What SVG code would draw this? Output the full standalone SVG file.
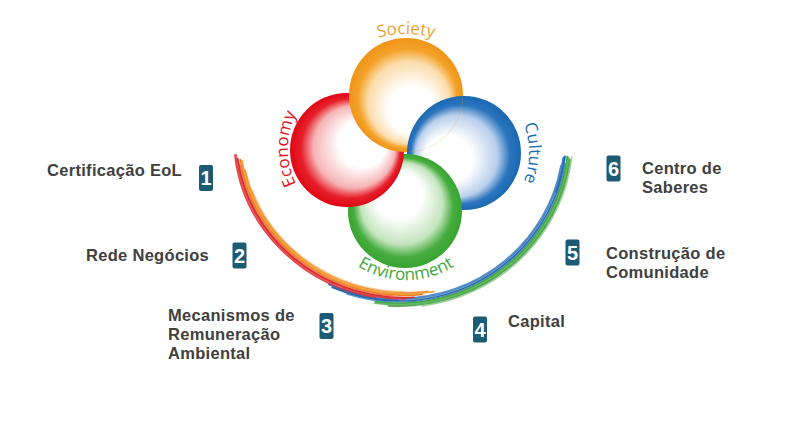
<svg xmlns="http://www.w3.org/2000/svg" xmlns:xlink="http://www.w3.org/1999/xlink" width="789" height="423" viewBox="0 0 789 423">
<style>
.lbl{font-family:"Liberation Sans",Arial,sans-serif;font-weight:700;font-size:16.5px;letter-spacing:0.3px;fill:#404040}
.num{font-family:"Liberation Sans",Arial,sans-serif;font-weight:700;font-size:20px;fill:#ffffff;text-anchor:middle}
.badge{fill:#1d5a74}
.ctx{font-family:"Open Sans","DejaVu Sans",sans-serif;font-size:17px;text-anchor:middle}
.s{fill:none;stroke-linecap:round}
</style>
<defs>
<radialGradient id="gO" cx="0.5" cy="0.5" r="0.5" fx="0.6" fy="0.74">
<stop offset="0" stop-color="#fff"/><stop offset="0.42" stop-color="#fff"/><stop offset="0.72" stop-color="#fbdcaa"/><stop offset="0.87" stop-color="#f4a22a"/><stop offset="1" stop-color="#f09418"/>
</radialGradient>
<radialGradient id="gR" cx="0.5" cy="0.5" r="0.5" fx="0.74" fy="0.4">
<stop offset="0" stop-color="#fff"/><stop offset="0.42" stop-color="#fff"/><stop offset="0.72" stop-color="#f6b3b5"/><stop offset="0.87" stop-color="#e5202a"/><stop offset="1" stop-color="#e00614"/>
</radialGradient>
<radialGradient id="gB" cx="0.5" cy="0.5" r="0.5" fx="0.26" fy="0.6">
<stop offset="0" stop-color="#fff"/><stop offset="0.42" stop-color="#fff"/><stop offset="0.72" stop-color="#b9cfec"/><stop offset="0.87" stop-color="#2a75bd"/><stop offset="1" stop-color="#1b68b2"/>
</radialGradient>
<radialGradient id="gG" cx="0.5" cy="0.5" r="0.5" fx="0.4" fy="0.26">
<stop offset="0" stop-color="#fff"/><stop offset="0.42" stop-color="#fff"/><stop offset="0.72" stop-color="#c3e4bd"/><stop offset="0.87" stop-color="#46ad3e"/><stop offset="1" stop-color="#38a431"/>
</radialGradient>
<clipPath id="clipO"><circle cx="406" cy="95" r="57"/></clipPath>
<path id="pSoc" d="M353.5,48.1 A105,105 0 0 1 458.5,48.1"/>
<path id="pEco" d="M298.7,189 A80,80 0 0 1 298.7,109"/>
<path id="pCul" d="M518.3,113 A80,80 0 0 1 518.3,193"/>
<path id="pEnv" d="M326.3,234 A92,92 0 0 0 485.7,234"/>
</defs>
<rect width="789" height="423" fill="#ffffff"/>

<g id="arcs">
<g id="arc-right" transform="translate(399,138) scale(1,0.975)">
<circle class="s" r="164.3" pathLength="360" stroke="#2f73b9" stroke-width="1.5" stroke-dasharray="100 1000" stroke-dashoffset="-10" opacity="0.8"/>
<circle class="s" r="165.6" pathLength="360" stroke="#3f86c8" stroke-width="2" stroke-dasharray="108 1000" stroke-dashoffset="-7"/>
<circle class="s" r="167" pathLength="360" stroke="#2866ad" stroke-width="2" stroke-dasharray="107 1000" stroke-dashoffset="-6.5"/>
<circle class="s" r="168.3" pathLength="360" stroke="#3a7fc4" stroke-width="1.5" stroke-dasharray="99 1000" stroke-dashoffset="-9" opacity="0.85"/>
<circle class="s" r="166.3" pathLength="360" stroke="#ffffff" stroke-width="0.5" stroke-dasharray="70 1000" stroke-dashoffset="-20" opacity="0.7"/>
<circle class="s" r="169.6" pathLength="360" stroke="#45a447" stroke-width="2" stroke-dasharray="91.5 1000" stroke-dashoffset="-6.5"/>
<circle class="s" r="171" pathLength="360" stroke="#5db85a" stroke-width="2.1" stroke-dasharray="91 1000" stroke-dashoffset="-7" opacity="0.95"/>
<circle class="s" r="172.4" pathLength="360" stroke="#3d9a3f" stroke-width="1.8" stroke-dasharray="86 1000" stroke-dashoffset="-7.5" opacity="0.85"/>
<circle class="s" r="173.9" pathLength="360" stroke="#6cbf66" stroke-width="1.4" stroke-dasharray="76 1000" stroke-dashoffset="-6.5" opacity="0.7"/>
</g>
<g id="arc-left" transform="translate(405,138) scale(1.03,0.975)">
<circle class="s" r="166.2" pathLength="360" stroke="#d8232a" stroke-width="1.4" stroke-dasharray="74 1000" stroke-dashoffset="-100" opacity="0.85"/>
<circle class="s" r="165" pathLength="360" stroke="#e2413f" stroke-width="1.8" stroke-dasharray="84 1000" stroke-dashoffset="-90" opacity="0.9"/>
<circle class="s" r="163.7" pathLength="360" stroke="#d92b2f" stroke-width="1.8" stroke-dasharray="85.5 1000" stroke-dashoffset="-87"/>
<circle class="s" r="162.5" pathLength="360" stroke="#e8604a" stroke-width="1.4" stroke-dasharray="76 1000" stroke-dashoffset="-94" opacity="0.8"/>
<circle class="s" r="161.3" pathLength="360" stroke="#f07f22" stroke-width="1.8" stroke-dasharray="88 1000" stroke-dashoffset="-84"/>
<circle class="s" r="160" pathLength="360" stroke="#f39a2e" stroke-width="2" stroke-dasharray="91.5 1000" stroke-dashoffset="-80" opacity="0.9"/>
<circle class="s" r="158.7" pathLength="360" stroke="#ee8a2a" stroke-width="1.6" stroke-dasharray="86 1000" stroke-dashoffset="-82" opacity="0.85"/>
<circle class="s" r="157.5" pathLength="360" stroke="#f4a640" stroke-width="1.2" stroke-dasharray="70 1000" stroke-dashoffset="-90" opacity="0.6"/>
</g>
</g>

<g id="circles">
<g id="culture"><circle id="cB" cx="464" cy="153" r="57" fill="url(#gB)"/></g>
<g id="environment"><circle cx="405" cy="211" r="57" fill="url(#gG)"/></g>
<g id="economy"><circle cx="347" cy="150" r="57" fill="url(#gR)"/></g>
<g id="society"><circle cx="406" cy="95" r="57" fill="url(#gO)"/></g>
<use xlink:href="#cB" href="#cB" clip-path="url(#clipO)"/>
</g>

<g id="circle-labels">
<text class="ctx" fill="#f0a030" font-size="18"><textPath href="#pSoc" xlink:href="#pSoc" startOffset="50%">Society</textPath></text>
<text class="ctx" fill="#e3141e"><textPath href="#pEco" xlink:href="#pEco" startOffset="50%">Economy</textPath></text>
<text class="ctx" fill="#1b6fb6"><textPath href="#pCul" xlink:href="#pCul" startOffset="50%">Culture</textPath></text>
<text class="ctx" fill="#3ea83a"><textPath href="#pEnv" xlink:href="#pEnv" startOffset="50%">Environment</textPath></text>
</g>

<g id="item-1">
<text class="lbl" x="47" y="175.5">Certificação EoL</text>
<rect class="badge" x="199" y="165" width="14" height="26" rx="2"/>
<text class="num" x="206" y="185.2">1</text>
</g>
<g id="item-2">
<text class="lbl" x="86" y="260.5">Rede Negócios</text>
<rect class="badge" x="232.5" y="242.5" width="14" height="26" rx="2"/>
<text class="num" x="239.5" y="262.7">2</text>
</g>
<g id="item-3">
<text class="lbl" x="168" y="320.5">Mecanismos de</text>
<text class="lbl" x="168" y="339.5">Remuneração</text>
<text class="lbl" x="168" y="358.5">Ambiental</text>
<rect class="badge" x="319.5" y="313" width="14" height="26" rx="2"/>
<text class="num" x="326.5" y="333.2">3</text>
</g>
<g id="item-4">
<rect class="badge" x="473" y="316.5" width="14" height="26" rx="2"/>
<text class="num" x="480" y="336.7">4</text>
<text class="lbl" x="508" y="327.3">Capital</text>
</g>
<g id="item-5">
<rect class="badge" x="565.5" y="239.5" width="14" height="26" rx="2"/>
<text class="num" x="572.5" y="259.7">5</text>
<text class="lbl" x="606" y="259">Construção de</text>
<text class="lbl" x="606" y="277.7">Comunidade</text>
</g>
<g id="item-6">
<rect class="badge" x="606.5" y="155.5" width="14" height="26" rx="2"/>
<text class="num" x="613.5" y="175.7">6</text>
<text class="lbl" x="642" y="174.3">Centro de</text>
<text class="lbl" x="642" y="192.7">Saberes</text>
</g>
</svg>
